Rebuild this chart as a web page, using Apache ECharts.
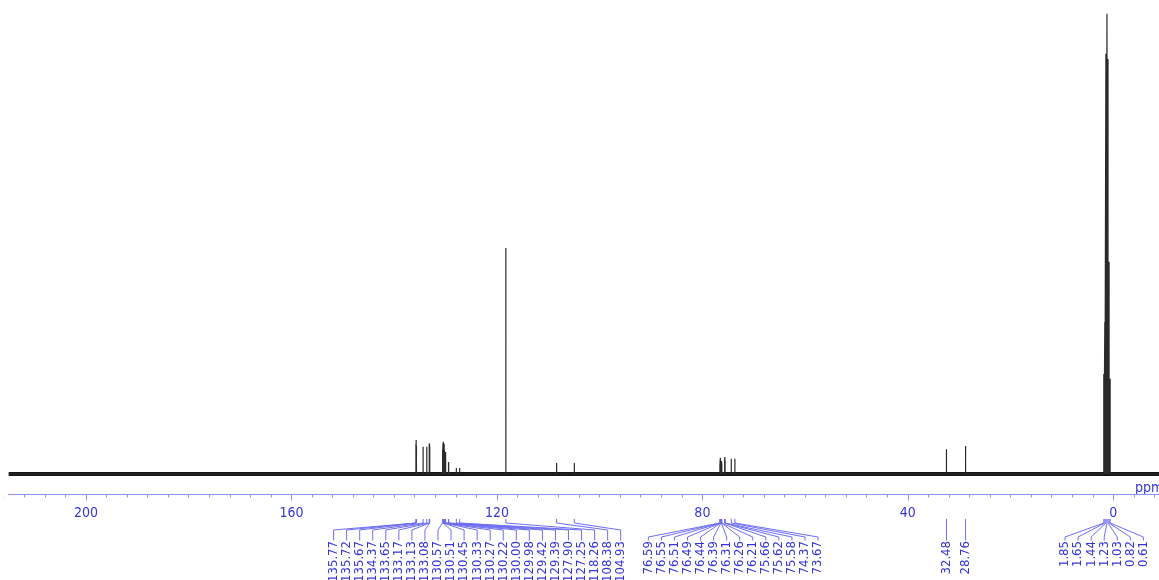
<!DOCTYPE html>
<html>
<head>
<meta charset="utf-8">
<title>13C NMR spectrum</title>
<script src="https://cdn.jsdelivr.net/npm/echarts@6/dist/echarts.min.js"></script>
<style>
  html, body { margin: 0; padding: 0; background: #ffffff; }
  #chart { width: 1159px; height: 580px; }
</style>
</head>
<body>
<div id="chart"></div>
<script>
// Chemical shifts (ppm) and relative intensities (tallest line = 100), by label group
const aromaticShifts = [135.77, 135.72, 135.67, 134.37, 133.65, 133.17, 133.13, 133.08,
  130.57, 130.51, 130.45, 130.33, 130.27, 130.22, 130.00, 129.98, 129.42, 129.39,
  127.90, 127.25, 118.26, 108.38, 104.93];
const aromaticHeights = [6.5, 7.4, 6.1, 5.9, 5.9, 6.7, 6.5, 6.1,
  5.4, 6.5, 7.0, 6.7, 6.5, 5.2, 4.8, 4.3, 2.6, 2.4,
  1.3, 1.3, 49.1, 2.4, 2.4];

const midShifts = [76.59, 76.55, 76.51, 76.49, 76.44, 76.39, 76.31, 76.26, 76.21,
  75.66, 75.62, 75.58, 74.37, 73.67];
const midHeights = [2.2, 3.0, 3.5, 3.3, 2.8, 2.6, 2.4, 2.8, 2.2,
  3.3, 3.7, 3.0, 3.3, 3.3];

const aliphaticShifts = [32.48, 28.76];
const aliphaticHeights = [5.4, 6.1];

const highFieldShifts = [1.85, 1.65, 1.44, 1.23, 1.03, 0.82, 0.61];
const highFieldHeights = [21.7, 33.0, 91.3, 100.0, 90.2, 46.1, 20.7];

// Axis ticks: labelled every 40 ppm, minor ticks every 4 ppm
const tickLabels = [0, 40, 80, 120, 160, 200];

// Spectral window shown on screen
const PPM_LEFT = 215.05;
const PPM_RIGHT = -8.9;
const Y_MIN = -4.46;
const Y_MAX = 103.0;

// Label layout: where each cluster of shift labels is centred (ppm) and label pitch (px)
const LABEL_STEP = 13.05;
const labelGroups = [
  { shifts: aromaticShifts, center: 123.85, bend: 35.5 },
  { shifts: midShifts, center: 74.0, bend: 42.5 },
  { shifts: [aliphaticShifts[0]], center: aliphaticShifts[0], bend: 42.5 },
  { shifts: [aliphaticShifts[1]], center: aliphaticShifts[1], bend: 42.5 },
  { shifts: highFieldShifts, center: 1.77, bend: 42.5 }
];

const BLUE_TEXT = '#3636d6';
const BLUE_LINE = '#6e6ef2';
const BLUE_AXIS = '#9191f6';
const FONT = "'DejaVu Sans Condensed', 'DejaVu Sans', sans-serif";

// Peak list -> stick spectrum (each line rises from the baseline and returns)
const allShifts = [].concat(aromaticShifts, midShifts, aliphaticShifts, highFieldShifts);
const allHeights = [].concat(aromaticHeights, midHeights, aliphaticHeights, highFieldHeights);
const peaks = allShifts.map((s, i) => [s, allHeights[i]]).sort((a, b) => b[0] - a[0]);
const stickData = [[PPM_LEFT, 0]];
peaks.forEach(([s, h]) => {
  stickData.push([s, 0], [s, h], [s, 0]);
});
stickData.push([PPM_RIGHT, 0]);

// Annotation rows: [shift, cluster centre, slot offset, bend]
const labelData = [];
labelGroups.forEach(g => {
  const n = g.shifts.length;
  g.shifts.forEach((s, i) => {
    labelData.push([s, g.center, i - (n - 1) / 2, g.bend]);
  });
});

function renderPeakLabel(params, api) {
  const shift = api.value(0);
  const center = api.value(1);
  const offset = api.value(2);
  const bend = api.value(3);
  const p = api.coord([shift, Y_MIN]);
  const px = p[0];
  const axisY = p[1];
  const lx = api.coord([center, Y_MIN])[0] + offset * LABEL_STEP;
  return {
    type: 'group',
    children: [
      {
        type: 'polyline',
        shape: {
          points: [
            [px, axisY + 24.5],
            [px, axisY + 28.5],
            [lx, axisY + bend],
            [lx, axisY + 46]
          ]
        },
        style: { stroke: BLUE_LINE, lineWidth: 1, fill: null }
      },
      {
        type: 'text',
        x: lx,
        y: axisY + 46.5,
        rotation: Math.PI / 2,
        style: {
          text: shift.toFixed(2),
          fill: BLUE_TEXT,
          font: '13px ' + FONT,
          align: 'right',
          verticalAlign: 'middle'
        }
      }
    ]
  };
}

// The axis scale runs -40..240 so its ticks land on round values; the grid
// extends past the canvas so only PPM_LEFT..PPM_RIGHT is visible.
const AXIS_MIN = -40;
const AXIS_MAX = 240;
const PX_PER_PPM = 5.1365;
const ZERO_X = 1113.3;
const gridLeft = ZERO_X - PX_PER_PPM * AXIS_MAX;
const gridWidth = PX_PER_PPM * (AXIS_MAX - AXIS_MIN);

const chart = echarts.init(document.getElementById('chart'), null, { renderer: 'canvas' });
chart.setOption({
  animation: false,
  backgroundColor: '#ffffff',
  grid: {
    left: gridLeft,
    width: gridWidth,
    top: 0,
    bottom: 85.5,
    containLabel: false,
    outerBoundsMode: 'none'
  },
  xAxis: {
    type: 'value',
    inverse: true,
    min: AXIS_MIN,
    max: AXIS_MAX,
    interval: 40,
    axisLine: { show: true, onZero: false, lineStyle: { color: BLUE_AXIS, width: 1 } },
    axisTick: { show: true, length: 6, lineStyle: { color: BLUE_AXIS } },
    minorTick: { show: true, splitNumber: 10, length: 3, lineStyle: { color: BLUE_AXIS } },
    splitLine: { show: false },
    minorSplitLine: { show: false },
    axisLabel: {
      color: BLUE_TEXT,
      fontFamily: FONT,
      fontSize: 14,
      margin: 12,
      formatter: v => (tickLabels.indexOf(v) >= 0 ? String(v) : '')
    }
  },
  yAxis: {
    type: 'value',
    show: false,
    min: Y_MIN,
    max: Y_MAX
  },
  series: [
    {
      name: 'baseline',
      type: 'line',
      data: [[PPM_LEFT, 0], [PPM_RIGHT, 0]],
      symbol: 'none',
      silent: true,
      lineStyle: { color: '#161616', width: 4 },
      z: 2
    },
    {
      name: 'spectrum',
      type: 'line',
      data: stickData,
      symbol: 'none',
      silent: true,
      lineStyle: { color: '#2a2a2a', width: 1.2 },
      z: 3
    },
    {
      name: 'peak labels',
      type: 'custom',
      data: labelData,
      renderItem: renderPeakLabel,
      clip: false,
      silent: true,
      z: 4
    }
  ],
  graphic: [
    {
      type: 'text',
      left: 1135,
      top: 481,
      style: { text: 'ppm', fill: BLUE_TEXT, font: '14px ' + FONT }
    },
    {
      // keep the axis line from running past the left end of the window
      type: 'rect',
      left: 0,
      top: 485,
      shape: { width: 8, height: 12 },
      style: { fill: '#ffffff' },
      z: 100
    }
  ]
});
</script>
</body>
</html>
